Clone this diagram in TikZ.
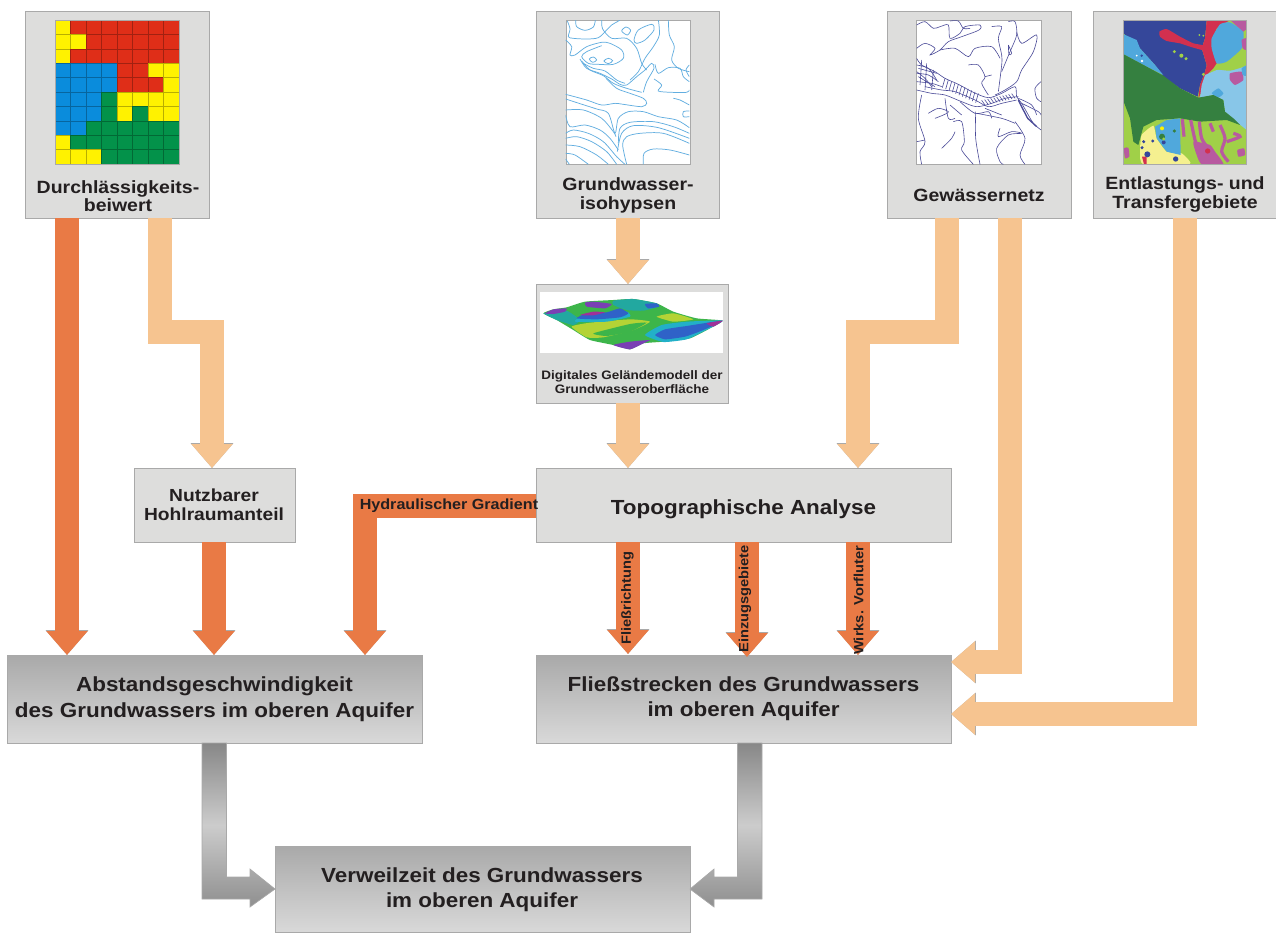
\documentclass[tikz,border=0pt]{standalone}
\usepackage{fontspec}
\setmainfont[FakeStretch=1.1]{Liberation Sans}
\usetikzlibrary{arrows.meta,fit}
\definecolor{boxfill}{HTML}{DDDDDC}
\definecolor{boxedge}{HTML}{A9A9A9}
\definecolor{darkor}{HTML}{E97A45}
\definecolor{lightor}{HTML}{F6C490}
\definecolor{inktext}{HTML}{231F20}
\definecolor{cR}{HTML}{DF2E18}
\definecolor{cY}{HTML}{FFF200}
\definecolor{cB}{HTML}{0A8CDC}
\definecolor{cG}{HTML}{03924A}
\definecolor{iso}{HTML}{62AEE0}
\definecolor{river}{HTML}{4A4A98}
\definecolor{mNavy}{HTML}{35479A}
\definecolor{mSky}{HTML}{50A8DC}
\definecolor{mPale}{HTML}{88C6E8}
\definecolor{mRed}{HTML}{D2304F}
\definecolor{mGreen}{HTML}{358040}
\definecolor{mLime}{HTML}{A0D048}
\definecolor{mMag}{HTML}{B85AA0}
\definecolor{mYel}{HTML}{F5F090}
\definecolor{dGreen}{HTML}{3DB54A}
\definecolor{dTeal}{HTML}{22A8A0}
\definecolor{dYel}{HTML}{B4D335}
\definecolor{dCyan}{HTML}{22B0C8}
\definecolor{dBlue}{HTML}{2F62C8}
\definecolor{dPur}{HTML}{7A3FB4}
\definecolor{dMag}{HTML}{A03098}
\tikzset{
  box/.style={draw=boxedge,line width=.7pt,fill=boxfill,inner sep=0pt,outer sep=0pt},
  gradbox/.style={draw=boxedge,line width=.7pt,top color=boxedge,bottom color=black!15,inner sep=0pt,outer sep=0pt},
  caption/.style={text=inktext,align=center,font=\bfseries\fontsize{13.3}{14.25}\selectfont,inner sep=0pt},
  titletext/.style={text=inktext,align=center,font=\bfseries\fontsize{15.3}{18.6}\selectfont,inner sep=0pt},
  flowlabel/.style={text=inktext,font=\bfseries\fontsize{10}{12}\selectfont,inner sep=0pt},
  pic frame/.style={draw=boxedge,line width=.6pt,fill=white},
  blob/.style={smooth cycle,tension=.3},
  arrowedge/.style={draw=boxedge,line width=18.7pt,-{Triangle[length=18.6pt,width=30.8pt,color=boxedge]}},
  arrowcore/.style={draw=#1,line width=18pt,-{Triangle[length=18pt,width=30pt,color=#1]}},
  greyarrow/.style={draw=boxedge,line width=.5pt,top color=black!47,bottom color=black!44,middle color=black!20},
  isoline/.style={draw=iso,line width=.55pt},
  riverline/.style={draw=river,line width=.45pt},
}
\newcommand{\FatLink}[2]{\draw[arrowedge] #2; \draw[arrowcore=#1] #2;}
\begin{document}
\begin{tikzpicture}[x=.75pt,y=-.75pt]
\useasboundingbox (0,0) rectangle (1276,932);
% ---------- boxes
\node[box,fit={(25,11)(209,218)}] (dbox) {};
\node[box,fit={(536,11)(719,218)}] (gbox) {};
\node[box,fit={(887,11)(1071,218)}] (wbox) {};
\node[box,fit={(1093,11)(1276,218)}] (ebox) {};
\node[box,fit={(536,284)(728,403)}] (dem) {};
\node[box,fit={(134,468)(295,542)}] (nutz) {};
\node[box,fit={(536,468)(951,542)}] (topo) {};
\node[gradbox,fit={(7,655)(422,743)}] (abst) {};
\node[gradbox,fit={(536,655)(951,743)}] (flies) {};
\node[gradbox,fit={(275,846)(690,932)}] (verw) {};
% ---------- grid map
\begin{scope}[shift={(55,20)},x=11.625pt,y=-10.8pt]
  \foreach \row [count=\r from 0] in {
    {cY,cR,cR,cR,cR,cR,cR,cR},{cY,cY,cR,cR,cR,cR,cR,cR},{cY,cR,cR,cR,cR,cR,cR,cR},
    {cB,cB,cB,cB,cR,cR,cY,cY},{cB,cB,cB,cB,cR,cR,cR,cY},{cB,cB,cB,cG,cY,cY,cY,cY},
    {cB,cB,cB,cG,cY,cG,cY,cY},{cB,cB,cG,cG,cG,cG,cG,cG},{cY,cG,cG,cG,cG,cG,cG,cG},
    {cY,cY,cY,cG,cG,cG,cG,cG}}{
    \foreach \c [count=\q from 0] in \row {
      \fill[\c,draw=black!28!\c,line width=.35pt] (\q,\r) rectangle ++(1,1);
    }
  }
\end{scope}
% ---------- isohypses
\draw[pic frame] (566,20) rectangle (690,164);
\begin{scope}[shift={(530,5)},x=.25pt,y=-.25pt]
  \clip (107,45) rectangle (478,478);
  \draw[isoline] plot[smooth] coordinates {(137,45)(140,65)(165,76)(190,66)(196,45)};
  \draw[isoline] plot[smooth] coordinates {(112,48)(120,72)(115,95)(130,100)(170,102)(205,98)(230,75)(245,60)(262,50)(270,45)};
  \draw[isoline] plot[smooth] coordinates {(107,105)(125,125)(120,150)(135,150)(170,125)(215,112)(240,115)(275,135)(280,160)(250,178)(205,178)(175,175)(155,155)(170,140)(215,122)};
  \draw[isoline] plot[smooth cycle] coordinates {(275,78)(288,66)(302,75)(292,90)};
  \draw[isoline] plot[smooth cycle] coordinates {(312,105)(325,75)(365,58)(372,75)(345,105)(320,115)};
  \draw[isoline] plot[smooth cycle,tension=.6] coordinates {(178,162)(190,156)(200,165)(188,172)};
  \draw[isoline] plot[smooth cycle,tension=.6] coordinates {(222,168)(235,160)(248,167)(235,176)};
  \draw[isoline] plot[smooth] coordinates {(150,162)(170,190)(210,205)(245,222)(270,238)(290,240)(320,215)(345,195)(365,175)(372,190)(350,230)(340,262)};
  \draw[isoline] plot[smooth] coordinates {(155,168)(180,195)(220,212)(250,235)(290,250)(335,262)};
  \draw[isoline] plot[smooth] coordinates {(160,175)(190,190)(225,198)(260,225)(285,235)};
  \draw[isoline] plot[smooth] coordinates {(215,45)(218,72)(245,100)(290,100)(320,130)(335,175)(350,195)};
  \draw[isoline] plot[smooth] coordinates {(385,45)(388,90)(370,125)(345,160)(325,200)(300,225)};
  \draw[isoline] plot[smooth] coordinates {(415,45)(418,90)(433,125)(425,165)(445,190)(478,200)};
  \draw[isoline] plot[smooth] coordinates {(372,222)(395,240)(385,258)(425,262)(470,262)(478,255)};
  \draw[isoline] plot[smooth] coordinates {(375,178)(385,205)(415,188)(450,190)(460,215)(478,230)};
  \draw[isoline] plot[smooth] coordinates {(478,180)(468,195)(478,215)};
  \draw[isoline] plot[smooth] coordinates {(430,280)(450,285)(478,300)};
  \draw[isoline] plot[smooth] coordinates {(478,318)(460,320)(460,335)(478,335)};
  \draw[isoline] plot[smooth] coordinates {(228,220)(260,250)(300,265)(340,280)(350,295)(335,305)(280,298)(255,295)(215,300)(170,285)(107,268)};
  \draw[isoline] plot[smooth] coordinates {(107,282)(150,296)(200,312)(235,325)(255,385)(265,340)(295,320)(340,320)(385,335)(440,345)(478,368)};
  \draw[isoline] plot[smooth] coordinates {(107,315)(160,315)(215,340)(250,380)(258,395)};
  \draw[isoline] plot[smooth] coordinates {(107,330)(120,365)(165,360)(210,375)(240,400)(265,435)};
  \draw[isoline] plot[smooth] coordinates {(107,385)(130,375)(175,385)(220,410)(260,455)(285,478)};
  \draw[isoline] plot[smooth] coordinates {(107,400)(140,395)(185,410)(230,440)(260,478)};
  \draw[isoline] plot[smooth] coordinates {(107,420)(150,425)(200,450)(235,478)};
  \draw[isoline] plot[smooth] coordinates {(107,445)(135,450)(175,478)};
  \draw[isoline] plot[smooth] coordinates {(118,478)(107,462)};
  \draw[isoline] plot[smooth] coordinates {(265,415)(270,370)(300,352)(370,350)(430,365)(478,385)};
  \draw[isoline] plot[smooth] coordinates {(262,440)(275,385)(310,362)(385,368)(478,400)};
  \draw[isoline] plot[smooth] coordinates {(290,478)(278,420)(290,395)(330,385)(400,385)(478,415)};
  \draw[isoline] plot[smooth] coordinates {(340,478)(342,445)(370,432)(420,435)(478,450)};
\end{scope}
% ---------- river network
\draw[pic frame] (916,20) rectangle (1041,164);
\begin{scope}[shift={(905,15)},x=.25pt,y=-.25pt]
  \clip (35,15) rectangle (408,448);
  \foreach \pts in {
    {(35,130)(50,150)(90,170)(120,190)(160,208)(205,232)(250,248)(290,235)(330,215)(335,245)(350,265)(370,300)(385,325)(408,345)},
    {(35,225)(80,235)(120,240)(170,260)(215,275)(260,265)(300,250)(340,245)},
    {(60,215)(110,225)(150,230)(210,255)(250,275)(290,265)(335,255)},
    {(35,170)(60,190)(80,215)},
    {(35,30)(60,20)(85,40)(105,35)(130,30)(135,70)(165,55)(180,35)(225,30)(222,45)(170,65)(130,80)(105,105)(75,120)(90,100)(60,85)(35,100)},
    {(135,18)(160,18)(175,40)(195,40)},
    {(260,35)(290,35)(280,70)(290,120)(290,150)(280,230)},
    {(310,20)(330,20)(335,60)(315,110)(290,170)},
    {(310,90)(320,115)(312,118)(310,90)},
    {(335,50)(350,85)(395,60)(385,110)(350,165)(335,200)(300,225)(270,240)},
    {(105,105)(150,100)(190,125)(210,100)(260,95)(285,130)},
    {(190,150)(220,150)(240,185)(230,205)(250,240)},
    {(260,180)(240,185)},
    {(408,200)(390,220)(395,250)(408,260)},
    {(350,265)(400,290)(408,300)},
    {(340,250)(380,270)(395,300)},
    {(70,295)(100,280)(130,290)(115,300)(90,310)},
    {(120,250)(130,310)(150,310)},
    {(50,240)(40,310)(60,380)(45,410)(50,448)},
    {(35,380)(60,375)},
    {(145,320)(170,320)(178,380)(170,405)(205,448)},
    {(212,290)(212,370)(225,448)},
    {(285,340)(280,365)(320,350)(350,355)(310,360)(275,400)(285,440)(295,448)},
    {(330,320)(360,370)(345,420)(360,448)},
    {(110,400)(140,370)(150,350)},
    {(165,260)(210,295)(250,290)(260,310)},
    {(215,295)(290,310)(330,325)},
    {(240,280)(290,300)},
    {(135,270)(170,300)},
    {(35,150)(70,160)(95,195)},
    {(35,175)(70,180)(100,200)},
    {(35,200)(80,205)(110,215)},
    {(50,135)(45,210)},
    {(65,145)(60,225)},
    {(85,165)(80,225)},
    {(40,160)(95,175)},
    {(40,185)(90,215)}}{
    \draw[riverline] plot[smooth,tension=.5] coordinates \pts;
  }
  \draw[river,line width=1pt] (340,255) -- (355,285) -- (368,310) -- (395,335);
  \foreach \a in {0,...,10}{
    \draw[riverline] ({120+\a*10},{190+\a*4.5}) -- ++(-8,28);
    \draw[riverline] ({240+\a*9},{270-\a*2}) -- ++(-10,-14);
  }
\end{scope}
% ---------- discharge / transfer map
\begin{scope}[shift={(880,5)},x=.25pt,y=-.25pt]
  \begin{scope}
  \clip (731,45) rectangle (1100,478);
  \fill[mLime] (731,45) rectangle (1100,478);
  \fill[mNavy] (731,45) -- (980,45) -- (975,100) -- (965,130) -- (980,180) -- (975,200) -- (960,240) -- (953,275) -- (900,250) -- (850,215) -- (825,180) -- (780,130) -- (731,85) -- cycle;
  \fill[mSky] (731,88) -- (770,105) -- (780,130) -- (825,180) -- (850,210) -- (800,185) -- (731,148) -- cycle;
  \fill[mRed] (980,45) -- (1050,45) -- (1010,70) -- (995,110) -- (1000,140) -- (1012,172) -- (1000,190) -- (975,215) -- (965,260) -- (955,280) -- (960,240) -- (975,200) -- (980,180) -- (965,130) -- (975,100) -- cycle;
  \fill[mRed] plot[blob] coordinates {(838,80)(860,72)(900,95)(940,115)(975,122)(975,137)(930,125)(900,115)(860,108)(840,95)};
  \fill[mPale] (975,210) -- (1010,195) -- (1050,190) -- (1100,178) -- (1100,375) -- (1075,355) -- (1035,320) -- (1030,285) -- (1000,270) -- (960,278) -- (965,240) -- cycle;
  \fill[mSky] plot[blob] coordinates {(1020,58)(1050,52)(1090,80)(1085,130)(1040,170)(1010,175)(995,130)(995,100)};
  \fill[mMag] (1050,45) -- (1100,45) -- (1100,72) -- (1090,80) -- cycle;
  \fill[mMag] plot[blob] coordinates {(1085,105)(1100,100)(1100,135)(1088,130)};
  \fill[mLime] plot[blob] coordinates {(1005,190)(1060,168)(1095,140)(1100,180)(1050,197)};
  \fill[mMag] plot[blob] coordinates {(1050,205)(1085,200)(1090,225)(1065,240)(1050,225)};
  \fill[mSky] plot[blob] coordinates {(1085,190)(1100,182)(1100,212)(1088,210)};
  \fill[mSky] plot[blob] coordinates {(995,265)(1015,250)(1030,265)(1015,278)};
  \fill[mGreen] (731,148) -- (800,185) -- (850,212) -- (900,250) -- (955,278) -- (1000,270) -- (1030,285) -- (1035,320) -- (1060,340) -- (1080,360) -- (1040,345) -- (960,350) -- (900,340) -- (830,345) -- (790,365) -- (775,420) -- (760,410) -- (750,340) -- (731,290) -- cycle;
  \fill[mYel] plot[blob] coordinates {(780,440)(785,390)(820,362)(830,400)(860,440)(905,445)(930,478)(790,478)};
  \fill[mSky] (825,365) -- (860,345) -- (900,340) -- (902,450) -- (860,440) -- (830,400) -- cycle;
  \foreach \pts in {{(907,342)(912,395)},{(932,345)(945,405)(955,430)},{(958,350)(965,400)(985,430)},{(990,355)(1000,380)},{(1020,360)(1035,400)(1025,440)(1045,470)},{(1060,385)(1080,395)(1040,410)}}{
    \draw[mMag,line width=2.4pt] plot[smooth] coordinates \pts;
  }
  \fill[mMag] plot[blob] coordinates {(940,410)(990,420)(1005,440)(1030,478)(965,478)(950,450)};
  \fill[mMag] plot[blob] coordinates {(732,430)(745,428)(748,455)(735,460)};
  \fill[mMag] plot[blob] coordinates {(1072,435)(1092,430)(1095,450)(1075,455)};
  \fill[mRed] (786,455) -- (800,455) -- (800,478) -- (792,478) -- cycle;
  \fill[mRed] (983,438) circle[radius=8];
  \foreach \p/\c/\r in {(791,410)/mNavy/5,(818,408)/mNavy/5,(851,412)/mNavy/6,(887,462)/mNavy/8,(786,428)/mNavy/5,(802,448)/mNavy/9,(846,370)/cY/6,(846,395)/mGreen/9,(883,378)/mGreen/5,(851,402)/mLime/5,(770,152)/white/3,(785,152)/mNavy/4,(786,168)/white/4,(883,140)/mLime/5,(904,152)/mLime/6,(918,161)/mLime/5,(970,208)/mLime/5,(958,90)/mLime/3,(970,92)/mLime/3}{
    \fill[\c] \p circle[radius=\r];
  }
  \end{scope}
  \draw[boxedge,line width=.6pt] (731,45) rectangle (1100,478);
\end{scope}
% ---------- grid frame
\draw[boxedge,line width=.6pt] (55,20) rectangle (179,164);
% ---------- terrain model
\fill[white] (540,292) rectangle (723,353);
\begin{scope}[shift={(530,280)},x=.25pt,y=-.25pt]
  \fill[dGreen] plot[blob] coordinates {(40,100)(70,88)(110,82)(165,65)(250,60)(310,57)(380,70)(430,95)(500,115)(578,122)(540,145)(480,175)(400,185)(340,190)(300,208)(250,195)(180,180)(130,150)(80,120)};
  \fill[dTeal] plot[blob] coordinates {(250,62)(310,57)(380,70)(385,80)(340,92)(290,90)(250,75)};
  \fill[dTeal] plot[blob] coordinates {(40,100)(70,100)(110,92)(150,120)(130,135)(80,120)};
  \fill[dYel] plot[blob] coordinates {(125,140)(180,128)(300,118)(360,125)(310,150)(220,172)(170,172)};
  \fill[dGreen] plot[blob] coordinates {(190,160)(300,132)(350,128)(300,155)(230,168)};
  \fill[dYel] plot[blob] coordinates {(380,110)(430,100)(490,118)(430,125)};
  \fill[dCyan] plot[blob] coordinates {(345,165)(395,135)(470,125)(578,122)(525,152)(470,178)(400,186)};
  \fill[dBlue] plot[blob] coordinates {(375,165)(405,148)(470,138)(578,122)(520,150)(465,170)(405,178)};
  \fill[dCyan] plot[blob] coordinates {(135,125)(160,105)(230,100)(290,95)(300,110)(230,125)};
  \fill[dBlue] plot[blob] coordinates {(140,115)(170,100)(230,97)(270,85)(295,100)(270,112)(200,118)};
  \fill[dMag] plot[blob] coordinates {(150,105)(190,95)(225,97)(190,106)};
  \fill[dPur] plot[blob] coordinates {(45,100)(70,88)(110,85)(105,95)(70,102)};
  \fill[dPur] plot[blob] coordinates {(165,68)(190,65)(245,72)(225,85)(170,80)};
  \fill[dBlue] plot[blob] coordinates {(345,72)(380,70)(388,80)(355,85)};
  \fill[dPur] plot[blob] coordinates {(250,195)(300,185)(360,180)(340,190)(300,208)};
  \fill[dMag] plot[blob] coordinates {(530,130)(578,122)(550,140)};
\end{scope}
% ---------- connectors
\FatLink{darkor}{(67,0 |- dbox.south) -- (67,0 |- abst.north)}
\FatLink{lightor}{(160,0 |- dbox.south) -- (160,332) -- (212,332) -- (212,0 |- nutz.north)}
\FatLink{lightor}{(628,0 |- gbox.south) -- (628,0 |- dem.north)}
\FatLink{lightor}{(628,0 |- dem.south) -- (628,0 |- topo.north)}
\FatLink{lightor}{(947,0 |- wbox.south) -- (947,332) -- (858,332) -- (858,0 |- topo.north)}
\FatLink{lightor}{(1010,0 |- wbox.south) -- (1010,662) -- (951,662)}
\FatLink{lightor}{(1185,0 |- ebox.south) -- (1185,714) -- (951,714)}
\FatLink{darkor}{(214,0 |- nutz.south) -- (214,0 |- abst.north)}
\FatLink{darkor}{(topo.west |- 0,506) -- (365,506) -- (365,0 |- abst.north)}
\coordinate (fa) at (628,654); \coordinate (fb) at (747,657); \coordinate (fc) at (858,655);
\FatLink{darkor}{(628,0 |- topo.south) -- (fa)}
\FatLink{darkor}{(747,0 |- topo.south) -- (fb)}
\FatLink{darkor}{(858,0 |- topo.south) -- (fc)}
% grey arrows
\shade[greyarrow] (202,0 |- abst.south) -- (226.5,0 |- abst.south) -- (226.5,877) -- (250,877) -- (250,869) -- (verw.west) -- (250,907) -- (250,899) -- (202,899) -- cycle;
\shade[greyarrow] (762,0 |- flies.south) -- (737.5,0 |- flies.south) -- (737.5,877) -- (714,877) -- (714,869) -- (verw.east) -- (714,907) -- (714,899) -- (762,899) -- cycle;
% ---------- text
\node[titletext] (lverw) at (482,890) {Verweilzeit des Grundwassers\\im oberen Aquifer};
\node[titletext,font=\bfseries\fontsize{15.3}{19.5}\selectfont] (labst) at (214.5,699.7) {Abstandsgeschwindigkeit\\des Grundwassers im oberen Aquifer};
\node[titletext] (lflies) at (743.5,699) {Fließstrecken des Grundwassers\\im oberen Aquifer};
\node[titletext] (ltopo) at (743.5,509.5) {Topographische Analyse};
\node[caption,font=\bfseries\fontsize{13.1}{14.25}\selectfont] (lnutz) at (214,505) {Nutzbarer\\Hohlraumanteil};
\node[caption,font=\bfseries\fontsize{13.3}{13.5}\selectfont] (dcap) at (118,195.7) {Durchlässigkeits-\\beiwert};
\node[caption] (gcap) at (628,195.9) {Grundwasser-\\isohypsen};
\node[caption] (wcap) at (979,195.2) {Gewässernetz};
\node[caption] (ecap) at (1185,194.9) {Entlastungs- und\\Transfergebiete};
\node[caption,font=\bfseries\fontsize{9.2}{10.5}\selectfont] (dcap2) at (632,381.8) {Digitales Geländemodell der\\Grundwasseroberfläche};
\node[flowlabel,anchor=base west,font=\bfseries\fontsize{11}{14}\selectfont] (lgrad) at (359.5,509.3) {Hydraulischer Gradient};
\node[flowlabel,rotate=90,anchor=west] (lflow) at (627.5,645) {Fließrichtung};
\node[flowlabel,rotate=90,anchor=west] (lein) at (745,653) {Einzugsgebiete};
\node[flowlabel,rotate=90,anchor=west] (lvor) at (858.6,655) {Wirks. Vorfluter};
\end{tikzpicture}
\end{document}
